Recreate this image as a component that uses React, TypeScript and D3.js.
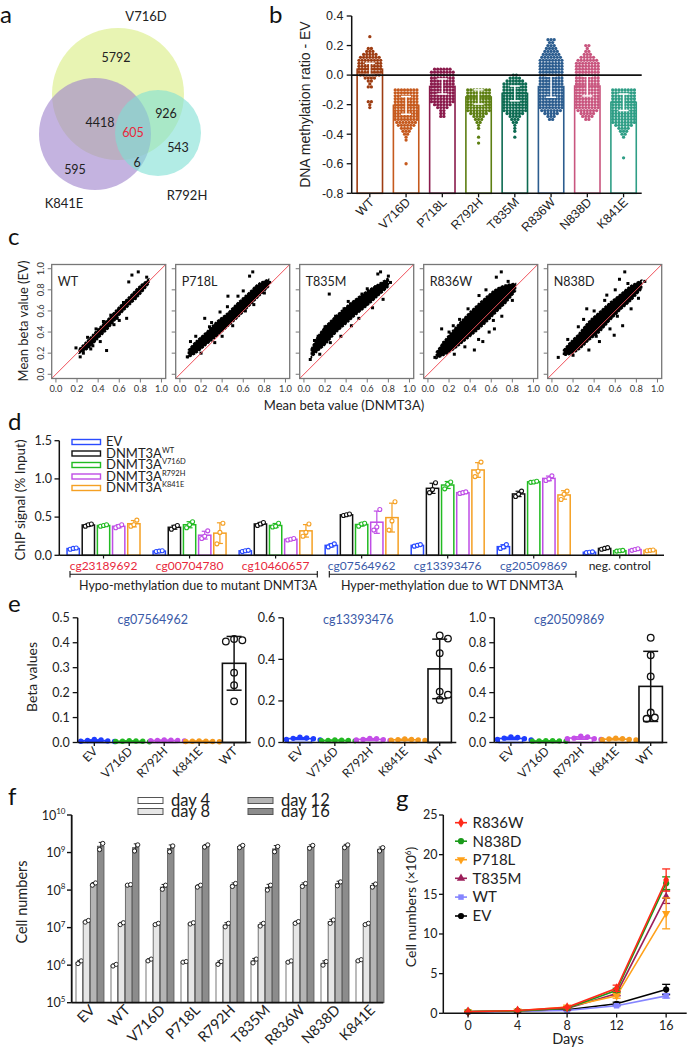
import React from "react";
import * as d3 from "d3";

const SANS = "Lato, 'Noto Sans', 'Open Sans', sans-serif";
const ARIAL = "'Liberation Sans', Arial, sans-serif";

// ---------------- Panel a (Venn) ----------------
const vennSets = ["V716D", "K841E", "R792H"];
const vennCounts = ["5792", "4418", "605", "926", "543", "6", "595"];

// ---------------- Panel b ----------------
const bMutants = ["WT", "V716D", "P718L", "R792H", "T835M", "R836W", "N838D", "K841E"];
const bMeans = [0.04, -0.205, -0.077, -0.148, -0.124, -0.078, -0.074, -0.184];
const bSDs = [0.04, 0.06, 0.051, 0.048, 0.05, 0.072, 0.067, 0.056];
const bColors = ["#9e3d12", "#c65a1e", "#8a1b4c", "#5d7f12", "#0d6b52", "#2c5d8f", "#c9567f", "#2f9e86"];
// histogram of per-CpG values (bins 0.02 wide, starting at bHistTop, going down)
const bHistTop = [0.26, -0.1, 0.04, -0.1, 0.0, 0.24, 0.2, -0.1];
const bHistCounts = [
  [1, 0, 0, 0, 2, 3, 5, 7, 8, 8, 8, 8, 8, 7, 4, 2, 1, 2, 0, 0, 0, 0, 2, 1, 1],
  [8, 8, 8, 8, 8, 8, 8, 8, 8, 8, 8, 7, 6, 4, 3, 2, 1, 1, 0, 0, 0, 0, 0, 0, 0, 1],
  [6, 8, 8, 8, 8, 8, 8, 8, 8, 8, 8, 8, 6, 4, 2, 2, 2],
  [8, 8, 8, 8, 8, 8, 8, 8, 6, 4, 3, 2, 1, 1, 0, 0, 1, 0, 1],
  [2, 4, 6, 8, 8, 8, 8, 8, 8, 8, 8, 8, 8, 6, 4, 3, 2, 1, 1, 1, 0, 1],
  [3, 2, 3, 4, 5, 6, 7, 8, 8, 8, 8, 8, 8, 8, 8, 8, 8, 8, 8, 8, 8, 8, 8, 8, 7, 5, 3, 2],
  [2, 1, 2, 3, 5, 7, 8, 8, 8, 8, 8, 8, 8, 8, 8, 8, 8, 8, 8, 8, 8, 8, 7, 5, 4, 2],
  [8, 8, 8, 8, 8, 8, 8, 8, 8, 8, 8, 8, 6, 4, 3, 2, 1, 0, 0, 0, 0, 0, 0, 1],
];

// ---------------- Panel c ----------------
const cPanels = ["WT", "P718L", "T835M", "R836W", "N838D"];
const cKnotX = [
  [0.22, 0.3, 0.4, 0.5, 0.6, 0.7, 0.8, 0.88],
  [0.08, 0.15, 0.25, 0.35, 0.45, 0.55, 0.65, 0.75, 0.84],
  [0.07, 0.12, 0.2, 0.3, 0.4, 0.5, 0.6, 0.7, 0.8],
  [0.08, 0.15, 0.25, 0.35, 0.45, 0.55, 0.65, 0.75, 0.83],
  [0.11, 0.17, 0.25, 0.35, 0.45, 0.55, 0.65, 0.75, 0.85],
];
const cLo = [
  [0.2, 0.24, 0.34, 0.44, 0.56, 0.66, 0.76, 0.86],
  [0.16, 0.2, 0.28, 0.36, 0.45, 0.54, 0.64, 0.74, 0.83],
  [0.16, 0.21, 0.28, 0.39, 0.48, 0.57, 0.65, 0.74, 0.83],
  [0.15, 0.18, 0.24, 0.32, 0.4, 0.49, 0.59, 0.69, 0.79],
  [0.18, 0.19, 0.23, 0.32, 0.4, 0.51, 0.61, 0.7, 0.81],
];
const cHi = [
  [0.24, 0.32, 0.43, 0.53, 0.64, 0.74, 0.84, 0.9],
  [0.23, 0.31, 0.4, 0.5, 0.58, 0.68, 0.77, 0.86, 0.9],
  [0.24, 0.34, 0.45, 0.55, 0.64, 0.72, 0.79, 0.85, 0.91],
  [0.21, 0.31, 0.43, 0.54, 0.64, 0.73, 0.81, 0.85, 0.86],
  [0.23, 0.3, 0.38, 0.5, 0.59, 0.68, 0.76, 0.84, 0.89],
];
const cOutliers = [
  [[0.72, 0.94], [0.78, 0.97], [0.69, 0.875], [0.48, 0.225], [0.67, 0.53], [0.19, 0.25], [0.23, 0.165], [0.26, 0.2], [0.35, 0.27], [0.42, 0.31], [0.55, 0.47], [0.6, 0.51], [0.45, 0.5], [0.38, 0.43], [0.82, 0.8], [0.75, 0.72], [0.3, 0.35], [0.52, 0.56], [0.64, 0.68], [0.33, 0.24], [0.86, 0.92], [0.58, 0.53]],
  [[0.69, 0.97], [0.66, 0.93], [0.455, 0.74], [0.235, 0.53], [0.1, 0.31], [0.07, 0.165], [0.15, 0.36], [0.3, 0.49], [0.38, 0.59], [0.55, 0.74], [0.6, 0.79], [0.4, 0.36], [0.5, 0.46], [0.7, 0.66], [0.8, 0.77], [0.2, 0.2], [0.85, 0.87], [0.28, 0.45], [0.45, 0.64], [0.62, 0.6], [0.72, 0.82], [0.33, 0.3]],
  [[0.24, 0.76], [0.726, 0.97], [0.7, 0.95], [0.52, 0.53], [0.135, 0.36], [0.1, 0.32], [0.2, 0.45], [0.3, 0.55], [0.42, 0.69], [0.6, 0.81], [0.35, 0.36], [0.45, 0.46], [0.65, 0.63], [0.75, 0.71], [0.82, 0.87], [0.06, 0.14], [0.15, 0.19], [0.25, 0.3], [0.55, 0.76], [0.38, 0.62], [0.68, 0.83], [0.8, 0.93]],
  [[0.695, 0.97], [0.648, 0.92], [0.484, 0.746], [0.13, 0.43], [0.066, 0.16], [0.52, 0.31], [0.63, 0.43], [0.44, 0.23], [0.2, 0.4], [0.3, 0.52], [0.38, 0.62], [0.55, 0.8], [0.25, 0.19], [0.35, 0.26], [0.58, 0.4], [0.7, 0.55], [0.8, 0.7], [0.15, 0.3], [0.42, 0.55], [0.48, 0.33], [0.62, 0.51], [0.24, 0.46], [0.76, 0.88]],
  [[0.69, 0.97], [0.64, 0.9], [0.33, 0.62], [0.06, 0.16], [0.59, 0.37], [0.67, 0.46], [0.25, 0.45], [0.4, 0.6], [0.5, 0.7], [0.6, 0.8], [0.35, 0.23], [0.45, 0.31], [0.55, 0.43], [0.75, 0.62], [0.82, 0.72], [0.15, 0.33], [0.2, 0.18], [0.88, 0.88], [0.3, 0.52], [0.52, 0.75], [0.62, 0.55], [0.72, 0.86], [0.42, 0.36]],
];
const cTicks = [0, 0.2, 0.4, 0.6, 0.8, 1.0];

// ---------------- Panel d ----------------
const dGroups = ["cg23189692", "cg00704780", "cg10460657", "cg07564962", "cg13393476", "cg20509869", "neg. control"];
const dSeries = ["EV", "WT", "V716D", "R792H", "K841E"];
const dLegendSup = ["", "WT", "V716D", "R792H", "K841E"];
const dColors = ["#2a4bff", "#111111", "#22bb22", "#bf4de6", "#f5a023"];
const dLabelColors = ["#e8283c", "#e8283c", "#e8283c", "#3a5aa8", "#3a5aa8", "#3a5aa8", "#222222"];
const dReps = [
  [[0.08, 0.09, 0.095], [0.38, 0.4, 0.41], [0.38, 0.39, 0.4], [0.36, 0.38, 0.4], [0.38, 0.4, 0.46]],
  [[0.05, 0.055, 0.06], [0.34, 0.37, 0.39], [0.36, 0.4, 0.44], [0.22, 0.25, 0.32], [0.15, 0.3, 0.42]],
  [[0.05, 0.06, 0.065], [0.39, 0.41, 0.43], [0.37, 0.38, 0.42], [0.2, 0.21, 0.22], [0.25, 0.3, 0.41]],
  [[0.11, 0.13, 0.15], [0.52, 0.53, 0.54], [0.38, 0.41, 0.42], [0.33, 0.37, 0.6], [0.33, 0.45, 0.7]],
  [[0.12, 0.13, 0.14], [0.82, 0.86, 0.95], [0.87, 0.93, 0.96], [0.81, 0.82, 0.83], [1.03, 1.1, 1.22]],
  [[0.09, 0.11, 0.14], [0.77, 0.8, 0.84], [0.955, 0.96, 0.97], [0.98, 1.0, 1.04], [0.73, 0.8, 0.84]],
  [[0.035, 0.04, 0.045], [0.08, 0.09, 0.1], [0.055, 0.06, 0.065], [0.065, 0.075, 0.085], [0.06, 0.065, 0.07]],
];
const dBrackets = ["Hypo-methylation due to mutant DNMT3A", "Hyper-methylation due to WT DNMT3A"];

// ---------------- Panel e ----------------
const eProbes = ["cg07564962", "cg13393476", "cg20509869"];
const eCats = ["EV", "V716D", "R792H", "K841E", "WT"];
const eColors = ["#1f3cff", "#22b822", "#c44ee8", "#f59a1e", "#111111"];
const eYMax = [0.5, 0.6, 1.0];
const eYTicks = [[0, 0.1, 0.2, 0.3, 0.4, 0.5], [0, 0.2, 0.4, 0.6], [0, 0.2, 0.4, 0.6, 0.8, 1.0]];
const eValues = [
  [[0.004, 0.006, 0.008, 0.01, 0.012, 0.005], [0.003, 0.005, 0.006, 0.004, 0.007, 0.005], [0.006, 0.008, 0.009, 0.007, 0.01, 0.008], [0.003, 0.004, 0.005, 0.004, 0.006, 0.005], [0.41, 0.405, 0.415, 0.28, 0.23, 0.165]],
  [[0.015, 0.02, 0.022, 0.018, 0.025, 0.012], [0.008, 0.01, 0.012, 0.009, 0.011, 0.01], [0.01, 0.015, 0.02, 0.012, 0.018, 0.014], [0.01, 0.012, 0.015, 0.013, 0.017, 0.011], [0.515, 0.5, 0.43, 0.245, 0.23, 0.205]],
  [[0.02, 0.03, 0.04, 0.045, 0.035, 0.025], [0.01, 0.012, 0.015, 0.013, 0.011, 0.014], [0.025, 0.03, 0.045, 0.05, 0.035, 0.03], [0.02, 0.025, 0.035, 0.03, 0.028, 0.022], [0.84, 0.7, 0.53, 0.24, 0.2, 0.19]],
];

// ---------------- Panel f ----------------
const fCats = ["EV", "WT", "V716D", "P718L", "R792H", "T835M", "R836W", "N838D", "K841E"];
const fDays = ["day 4", "day 8", "day 12", "day 16"];
const fFills = ["#ffffff", "#e6e6e6", "#b4b4b4", "#8c8c8c"];
const fExponents = [5, 6, 7, 8, 9, 10];
const fValues = [
  [[1.1e6, 1.3e6], [0.95e6, 1.05e6], [1.3e6, 1.45e6], [1.2e6, 1.25e6], [1.05e6, 1.25e6], [1.15e6, 1.45e6], [1.2e6, 1.3e6], [1.0e6, 1.25e6], [1.3e6, 1.4e6]],
  [[1.4e7, 1.55e7], [1.2e7, 1.35e7], [1.2e7, 1.3e7], [1.25e7, 1.35e7], [1.05e7, 1.3e7], [1.1e7, 1.3e7], [1.3e7, 1.45e7], [1.3e7, 1.6e7], [1.2e7, 1.3e7]],
  [[1.35e8, 1.55e8], [1.35e8, 1.4e8], [1.05e8, 1.35e8], [1.2e8, 1.35e8], [1.25e8, 1.5e8], [1.0e8, 1.35e8], [1.25e8, 1.5e8], [1.3e8, 1.65e8], [1.2e8, 1.45e8]],
  [[1.2e9, 1.75e9], [1.1e9, 1.6e9], [1.05e9, 1.5e9], [1.4e9, 1.6e9], [1.35e9, 1.55e9], [1.05e9, 1.45e9], [1.3e9, 1.55e9], [1.35e9, 1.6e9], [1.1e9, 1.35e9]],
];

// ---------------- Panel g ----------------
const gDays = [0, 4, 8, 12, 16];
const gSeries = ["R836W", "N838D", "P718L", "T835M", "WT", "EV"];
const gColors = ["#ff2a1a", "#1a9a1a", "#ffa11a", "#9c1f5a", "#8585ff", "#000000"];
const gSymbols = [d3.symbolDiamond, d3.symbolCircle, d3.symbolTriangle, d3.symbolTriangle, d3.symbolSquare, d3.symbolCircle];
const gFlip = [false, false, true, false, false, false];
const gMeans = [
  [0.2, 0.35, 0.75, 3.15, 16.8],
  [0.2, 0.3, 0.65, 2.9, 16.4],
  [0.22, 0.3, 0.8, 2.2, 12.6],
  [0.2, 0.3, 0.6, 2.5, 14.7],
  [0.18, 0.25, 0.35, 0.95, 2.2],
  [0.22, 0.3, 0.45, 1.2, 3.0],
];
const gSDs = [
  [0.02, 0.03, 0.08, 0.4, 1.4],
  [0.02, 0.03, 0.06, 0.25, 0.8],
  [0.02, 0.03, 0.1, 0.3, 1.95],
  [0.02, 0.03, 0.06, 0.3, 0.85],
  [0.02, 0.02, 0.04, 0.1, 0.28],
  [0.02, 0.03, 0.05, 0.2, 0.65],
];

// ---------------- helpers ----------------
const fmt1 = (v: number) => (Math.abs(v) < 1e-9 ? 0 : v).toFixed(1);

function dodge(vals: number[], y: (v: number) => number, cx: number, r: number) {
  const placed: { x: number; y: number }[] = [];
  const order = [...vals].sort((a, b) => b - a);
  const s = r * 1.25;
  for (const v of order) {
    const py = y(v);
    const cands = [0];
    for (let j = 1; j < 12; j++) cands.push(j * s, -j * s);
    for (const c of cands) {
      const px = cx + c;
      if (!placed.some((p) => Math.hypot(p.x - px, p.y - py) < 2 * r * 0.95)) {
        placed.push({ x: px, y: py });
        break;
      }
    }
  }
  return placed;
}

const PanelLabel = ({ x, y, t }: { x: number; y: number; t: string }) => (
  <text x={x} y={y} fontSize={24} fontFamily={SANS} fill="#111">
    {t}
  </text>
);

// ---------------- Panels ----------------
function PanelA() {
  const circles = [
    { cx: 118, cy: 94, r: 66, fill: "#d8ec80" },
    { cx: 95, cy: 134, r: 56, fill: "#9c80cc" },
    { cx: 158, cy: 133, r: 43, fill: "#7ee0d4" },
  ];
  const labelPos = [
    [146, 21],
    [64, 208],
    [187, 200],
  ];
  const countPos = [
    [116, 62],
    [100, 127],
    [133, 137],
    [166, 118],
    [178, 152],
    [137, 167],
    [75, 174],
  ];
  return (
    <g fontFamily={SANS}>
      <PanelLabel x={0} y={23} t="a" />
      {circles.map((c, i) => (
        <circle key={i} cx={c.cx} cy={c.cy} r={c.r} fill={c.fill} fillOpacity={0.6} />
      ))}
      {vennSets.map((s, i) => (
        <text key={s} x={labelPos[i][0]} y={labelPos[i][1]} textAnchor="middle" fontSize={13} fill="#222">
          {s}
        </text>
      ))}
      {vennCounts.map((c, i) => (
        <text key={i} x={countPos[i][0]} y={countPos[i][1]} textAnchor="middle" fontSize={12.5} fill={c === "605" ? "#e8283c" : "#222"}>
          {c}
        </text>
      ))}
    </g>
  );
}

function PanelB() {
  const x = d3.scaleBand<string>().domain(bMutants).range([351.7, 641.7]).paddingInner(0.3).paddingOuter(0.15);
  const y = d3.scaleLinear().domain([-0.8, 0.4]).range([193.3, 16]);
  const bw = x.bandwidth();
  return (
    <g fontFamily={ARIAL}>
      <PanelLabel x={269} y={23} t="b" />
      {bMutants.map((m, i) => (
        <rect key={m} x={x(m)!} y={y(bMeans[i])} width={bw} height={y(-0.8) - y(bMeans[i])} fill="#fff" stroke={bColors[i]} strokeWidth={1.6} />
      ))}
      {bMutants.map((m, i) => {
        const cx = x(m)! + bw / 2;
        return (
          <g key={m} fill={bColors[i]}>
            {bHistCounts[i].flatMap((n, k) => {
              const cy = y(bHistTop[i] - 0.02 * k);
              return d3.range(n).map((j) => <circle key={k + "-" + j} cx={cx + (j - (n - 1) / 2) * 3.1} cy={cy} r={1.65} />);
            })}
          </g>
        );
      })}
      {bMutants.map((m, i) => {
        const cx = x(m)! + bw / 2;
        const t = y(bMeans[i] + bSDs[i]);
        const b = y(bMeans[i] - bSDs[i]);
        return (
          <g key={m} stroke="#fff" strokeWidth={1.5}>
            <line x1={cx} x2={cx} y1={t} y2={b} />
            <line x1={cx - 5} x2={cx + 5} y1={t} y2={t} />
            <line x1={cx - 5} x2={cx + 5} y1={b} y2={b} />
          </g>
        );
      })}
      <line x1={351.7} x2={641.7} y1={y(0)} y2={y(0)} stroke="#111" strokeWidth={1.6} />
      <line x1={351.7} x2={351.7} y1={y(0.4)} y2={y(-0.8)} stroke="#111" strokeWidth={1.5} />
      <line x1={351.7} x2={641.7} y1={y(-0.8)} y2={y(-0.8)} stroke="#111" strokeWidth={1.5} />
      {y.ticks(6).map((t) => (
        <g key={t}>
          <line x1={346.7} x2={351.7} y1={y(t)} y2={y(t)} stroke="#111" strokeWidth={1.3} />
          <text x={343.5} y={y(t) + 4.3} textAnchor="end" fontSize={12.5} fill="#222">
            {fmt1(t)}
          </text>
        </g>
      ))}
      {bMutants.map((m) => {
        const cx = x(m)! + bw / 2;
        return (
          <g key={m}>
            <line x1={cx} x2={cx} y1={y(-0.8)} y2={y(-0.8) + 4} stroke="#111" strokeWidth={1.3} />
            <text transform={`translate(${cx + 5},${203}) rotate(-45)`} textAnchor="end" fontSize={12.5} fill="#222">
              {m}
            </text>
          </g>
        );
      })}
      <text transform={`translate(${310},${104.6}) rotate(-90)`} textAnchor="middle" fontSize={14} fill="#222">
        DNA methylation ratio - EV
      </text>
    </g>
  );
}

function PanelC() {
  const lefts = [51.7, 175.7, 299.7, 423.7, 547.7];
  return (
    <g fontFamily={SANS}>
      <PanelLabel x={8} y={245} t="c" />
      {cPanels.map((name, i) => {
        const L = lefts[i];
        const x = d3.scaleLinear().domain([-0.04, 1.04]).range([L, L + 114]);
        const y = d3.scaleLinear().domain([-0.04, 1.04]).range([378.5, 264.5]);
        const area = d3
          .area<number>()
          .x((d) => x(d))
          .y0((d, k) => y(cLo[i][k]))
          .y1((d, k) => y(cHi[i][k]))
          .curve(d3.curveCatmullRom);
        return (
          <g key={name}>
            <path d={area(cKnotX[i]) || ""} fill="#000" stroke="#000" strokeWidth={1.6} strokeDasharray="2.5 1.2" />
            {cOutliers[i].map((p, k) => (
              <rect key={k} x={x(p[0]) - 1.5} y={y(p[1]) - 1.5} width={3} height={3} fill="#000" />
            ))}
            <line x1={x(-0.04)} y1={y(-0.04)} x2={x(1.04)} y2={y(1.04)} stroke="#f0505a" strokeWidth={1} />
            <rect x={L} y={264.5} width={114} height={114} fill="none" stroke="#777" strokeWidth={1.3} />
            <text x={L + 6} y={286} fontSize={12.5} fill="#222">
              {name}
            </text>
            {cTicks.map((t) => (
              <g key={t}>
                <line x1={x(t)} x2={x(t)} y1={378.5} y2={382.5} stroke="#777" />
                <text x={x(t)} y={392} textAnchor="middle" fontSize={9.3} fill="#333">
                  {t.toFixed(1)}
                </text>
                <line x1={L - 4} x2={L} y1={y(t)} y2={y(t)} stroke="#777" />
                {i === 0 && (
                  <text transform={`translate(${44},${y(t)}) rotate(-90)`} textAnchor="middle" fontSize={9.3} fill="#333">
                    {t.toFixed(1)}
                  </text>
                )}
              </g>
            ))}
          </g>
        );
      })}
      <text transform={`translate(${28},${321}) rotate(-90)`} textAnchor="middle" fontSize={13} fill="#222">
        Mean beta value (EV)
      </text>
      <text x={344} y={410} textAnchor="middle" fontSize={13} fill="#222">
        Mean beta value (DNMT3A)
      </text>
    </g>
  );
}

function PanelD() {
  const y = d3.scaleLinear().domain([0, 1.5]).range([555.3, 440.7]);
  const xg = d3.scaleBand<string>().domain(dGroups).range([59.3, 664]).paddingInner(0.152).paddingOuter(0.09);
  const xs = d3.scaleBand<string>().domain(dSeries).range([0, xg.bandwidth()]).paddingInner(0.19).paddingOuter(0);
  const bw = xs.bandwidth();
  const legendY = [442, 453.5, 465, 476.5, 488];
  return (
    <g fontFamily={SANS}>
      <PanelLabel x={8} y={430} t="d" />
      {dGroups.map((g, gi) => (
        <g key={g}>
          {dSeries.map((s, si) => {
            const reps = dReps[gi][si];
            const m = d3.mean(reps)!;
            const sd = d3.deviation(reps)!;
            const x0 = xg(g)! + xs(s)!;
            const cx = x0 + bw / 2;
            return (
              <g key={s}>
                <rect x={x0} y={y(m)} width={bw} height={y(0) - y(m)} fill="#fff" stroke={dColors[si]} strokeWidth={1.5} />
                <g stroke={dColors[si]} strokeWidth={1.2}>
                  <line x1={cx} x2={cx} y1={y(m - sd)} y2={y(m + sd)} />
                  <line x1={cx - 3} x2={cx + 3} y1={y(m + sd)} y2={y(m + sd)} />
                  <line x1={cx - 3} x2={cx + 3} y1={y(m - sd)} y2={y(m - sd)} />
                </g>
                {reps.map((v, k) => (
                  <circle key={k} cx={cx + (k - 1) * 3} cy={y(v)} r={2} fill="#fff" stroke={dColors[si]} strokeWidth={1.1} />
                ))}
              </g>
            );
          })}
          <line x1={xg(g)! + xg.bandwidth() / 2} x2={xg(g)! + xg.bandwidth() / 2} y1={555.3} y2={558.5} stroke="#111" strokeWidth={1.2} />
          <text x={xg(g)! + xg.bandwidth() / 2} y={570} textAnchor="middle" fontSize={12} fill={dLabelColors[gi]}>
            {g}
          </text>
        </g>
      ))}
      <line x1={59.3} x2={59.3} y1={440.7} y2={555.3} stroke="#111" strokeWidth={1.5} />
      <line x1={59.3} x2={664} y1={555.3} y2={555.3} stroke="#111" strokeWidth={1.5} />
      {[0, 0.5, 1.0, 1.5].map((t) => (
        <g key={t}>
          <line x1={54.5} x2={59.3} y1={y(t)} y2={y(t)} stroke="#111" strokeWidth={1.3} />
          <text x={52} y={y(t) + 4.2} textAnchor="end" fontSize={12.5} fill="#222">
            {fmt1(t)}
          </text>
        </g>
      ))}
      <text transform={`translate(${25},${500}) rotate(-90)`} textAnchor="middle" fontSize={13.5} fill="#222">
        ChIP signal (% Input)
      </text>
      {dSeries.map((s, i) => (
        <g key={s}>
          <rect x={72} y={legendY[i] - 2.5} width={28.5} height={5} fill="#fff" stroke={dColors[i]} strokeWidth={1.4} />
          <text x={106} y={legendY[i] + 4.4} fontSize={13} fill="#222">
            {i === 0 ? "EV" : "DNMT3A"}
            {dLegendSup[i] && (
              <tspan dy={-5} fontSize={7.5}>
                {dLegendSup[i]}
              </tspan>
            )}
          </text>
        </g>
      ))}
      {[
        [70, 317.3],
        [329.3, 576],
      ].map((b, i) => (
        <g key={i} stroke="#111" strokeWidth={1.1}>
          <line x1={b[0]} x2={b[1]} y1={574.3} y2={574.3} />
          <line x1={b[0]} x2={b[0]} y1={571} y2={577.6} />
          <line x1={b[1]} x2={b[1]} y1={571} y2={577.6} />
          <text x={i === 0 ? 198 : 452} y={589.5} textAnchor="middle" fontSize={12.5} fill="#222" stroke="none">
            {dBrackets[i]}
          </text>
        </g>
      ))}
    </g>
  );
}

function PanelE() {
  const axisXs = [77.7, 283.3, 494.3];
  return (
    <g fontFamily={SANS}>
      <PanelLabel x={8} y={612} t="e" />
      <text transform={`translate(${37},${677}) rotate(-90)`} textAnchor="middle" fontSize={14} fill="#222">
        Beta values
      </text>
      {eProbes.map((p, pi) => {
        const ax = axisXs[pi];
        const y = d3.scaleLinear().domain([0, eYMax[pi]]).range([742.5, 617.8]);
        const x = d3.scaleBand<string>().domain(eCats).range([ax, ax + 173]).paddingInner(0.33).paddingOuter(0.14);
        const bw = x.bandwidth();
        return (
          <g key={p}>
            {eCats.map((c, ci) => {
              const vals = eValues[pi][ci];
              const m = d3.mean(vals)!;
              const sd = d3.deviation(vals)!;
              const cx = x(c)! + bw / 2;
              const isWT = c === "WT";
              const r = isWT ? 3.3 : 2.7;
              const pts = dodge(vals, y, cx, r);
              return (
                <g key={c}>
                  <rect x={x(c)!} y={y(m)} width={bw} height={Math.max(0, y(0) - y(m))} fill="#fff" stroke={eColors[ci]} strokeWidth={1.6} />
                  {isWT &&
                    pts.map((q, k) => <circle key={k} cx={q.x} cy={q.y} r={r} fill="#fff" stroke="#111" strokeWidth={1.3} />)}
                  <g stroke={eColors[ci]} strokeWidth={1.5}>
                    <line x1={cx} x2={cx} y1={y(m - sd)} y2={y(m + sd)} />
                    <line x1={cx - 7.5} x2={cx + 7.5} y1={y(m + sd)} y2={y(m + sd)} />
                    <line x1={cx - 7.5} x2={cx + 7.5} y1={y(m - sd)} y2={y(m - sd)} />
                  </g>
                  {!isWT && pts.map((q, k) => <circle key={k} cx={q.x} cy={q.y} r={r} fill={eColors[ci]} />)}
                  <line x1={cx} x2={cx} y1={742.5} y2={746} stroke="#111" strokeWidth={1.3} />
                  <text transform={`translate(${cx + 4},${752}) rotate(-45)`} textAnchor="end" fontSize={12} fill="#222">
                    {c}
                  </text>
                </g>
              );
            })}
            <line x1={ax} x2={ax} y1={617.8} y2={742.5} stroke="#111" strokeWidth={1.5} />
            <line x1={ax} x2={ax + 173} y1={742.5} y2={742.5} stroke="#111" strokeWidth={1.5} />
            {eYTicks[pi].map((t) => (
              <g key={t}>
                <line x1={ax - 5} x2={ax} y1={y(t)} y2={y(t)} stroke="#111" strokeWidth={1.3} />
                <text x={ax - 8} y={y(t) + 4.3} textAnchor="end" fontSize={12.5} fill="#222">
                  {fmt1(t)}
                </text>
              </g>
            ))}
            <text x={ax + 75} y={624} textAnchor="middle" fontSize={12.5} fill="#3a5aa8">
              {p}
            </text>
          </g>
        );
      })}
    </g>
  );
}

function PanelF() {
  const y = d3.scaleLog().domain([1e5, 1e10]).range([1002.7, 815]);
  const xg = d3.scaleBand<string>().domain(fCats).range([76, 384]).paddingInner(0.2).paddingOuter(0);
  const xd = d3.scaleBand<string>().domain(fDays).range([0, xg.bandwidth()]).paddingInner(0.1).paddingOuter(0);
  const bw = xd.bandwidth();
  const legend = [
    [138, 800.5, 0],
    [138, 811.5, 1],
    [248, 800.5, 2],
    [248, 811.5, 3],
  ];
  return (
    <g fontFamily={SANS}>
      <PanelLabel x={8} y={805} t="f" />
      {fCats.map((c, ci) => (
        <g key={c}>
          {fDays.map((d, di) => {
            const vals = fValues[di][ci];
            const m = d3.mean(vals)!;
            const sd = d3.deviation(vals)!;
            const x0 = xg(c)! + xd(d)!;
            const cx = x0 + bw / 2;
            return (
              <g key={d}>
                <rect x={x0} y={y(m)} width={bw} height={y(1e5) - y(m)} fill={fFills[di]} stroke="#555" strokeWidth={0.8} />
                <g stroke="#111" strokeWidth={0.9}>
                  <line x1={cx} x2={cx} y1={y(m - sd)} y2={y(m + sd)} />
                  <line x1={cx - 2} x2={cx + 2} y1={y(m + sd)} y2={y(m + sd)} />
                </g>
                {vals.map((v, k) => (
                  <circle key={k} cx={cx + (k === 0 ? -1.2 : 2)} cy={y(v)} r={2.1} fill="#fff" stroke="#111" strokeWidth={0.9} />
                ))}
              </g>
            );
          })}
          <text transform={`translate(${xg(c)! + xg.bandwidth() / 2 + 6},${1011}) rotate(-45)`} textAnchor="end" fontSize={14.5} fill="#222">
            {c}
          </text>
        </g>
      ))}
      <line x1={71.7} x2={71.7} y1={815} y2={1002.7} stroke="#111" strokeWidth={1.8} />
      <line x1={71.7} x2={383.3} y1={1002.7} y2={1002.7} stroke="#111" strokeWidth={1.8} />
      {fExponents.map((e) => (
        <g key={e}>
          <line x1={67} x2={71.7} y1={y(Math.pow(10, e))} y2={y(Math.pow(10, e))} stroke="#111" strokeWidth={1.4} />
          <text x={65.5} y={y(Math.pow(10, e)) + 4.5} textAnchor="end" fontSize={12.5} fill="#222">
            10
            <tspan dy={-5.5} fontSize={8}>
              {e}
            </tspan>
          </text>
        </g>
      ))}
      <text transform={`translate(${27},${902}) rotate(-90)`} textAnchor="middle" fontSize={14.5} fill="#222">
        Cell numbers
      </text>
      {legend.map(([lx, ly, i]) => (
        <g key={i}>
          <rect x={lx} y={ly - 3} width={25} height={6} fill={fFills[i]} stroke="#555" strokeWidth={1} />
          <text x={lx + 33} y={ly + 5.3} fontSize={16.5} fill="#222">
            {fDays[i]}
          </text>
        </g>
      ))}
    </g>
  );
}

function PanelG() {
  const x = d3.scaleLinear().domain([-2, 17.66]).range([443.3, 686.7]);
  const y = d3.scaleLinear().domain([0, 25]).range([1013.3, 815]);
  const line = d3
    .line<number>()
    .x((d, k) => x(gDays[k]))
    .y((d) => y(d));
  const legendY = [822.7, 841.2, 859.7, 878.3, 897.1, 916];
  const sym = (i: number, size: number) => d3.symbol(gSymbols[i], size)() || "";
  const order = [5, 4, 3, 2, 1, 0];
  return (
    <g fontFamily={SANS}>
      <PanelLabel x={396} y={807} t="g" />
      {order.map((i) => (
        <g key={gSeries[i]}>
          <path d={line(gMeans[i]) || ""} fill="none" stroke={gColors[i]} strokeWidth={1.6} />
          {gMeans[i].map((m, k) => {
            const cx = x(gDays[k]);
            const sd = gSDs[i][k];
            return (
              <g key={k} stroke={gColors[i]} strokeWidth={1.3}>
                <line x1={cx} x2={cx} y1={y(m - sd)} y2={y(m + sd)} />
                <line x1={cx - 4} x2={cx + 4} y1={y(m + sd)} y2={y(m + sd)} />
                <line x1={cx - 4} x2={cx + 4} y1={y(m - sd)} y2={y(m - sd)} />
              </g>
            );
          })}
          {gMeans[i].map((m, k) => (
            <path
              key={k}
              d={sym(i, 30)}
              transform={`translate(${x(gDays[k])},${y(m)})${gFlip[i] ? " rotate(180)" : ""}`}
              fill={gColors[i]}
            />
          ))}
        </g>
      ))}
      <line x1={443.3} x2={443.3} y1={815} y2={1013.3} stroke="#111" strokeWidth={1.5} />
      <line x1={443.3} x2={686.7} y1={1013.3} y2={1013.3} stroke="#111" strokeWidth={1.5} />
      {[0, 5, 10, 15, 20, 25].map((t) => (
        <g key={t}>
          <line x1={439} x2={443.3} y1={y(t)} y2={y(t)} stroke="#111" strokeWidth={1.3} />
          <text x={437.5} y={y(t) + 4.3} textAnchor="end" fontSize={12.5} fill="#222">
            {t}
          </text>
        </g>
      ))}
      {gDays.map((t) => (
        <g key={t}>
          <line x1={x(t)} x2={x(t)} y1={1013.3} y2={1017.5} stroke="#111" strokeWidth={1.3} />
          <text x={x(t)} y={1029.5} textAnchor="middle" fontSize={12.5} fill="#222">
            {t}
          </text>
        </g>
      ))}
      <text x={568} y={1044} textAnchor="middle" fontSize={14.5} fill="#222">
        Days
      </text>
      <text transform={`translate(${416},${907}) rotate(-90)`} textAnchor="middle" fontSize={14} fill="#222">
        Cell numbers (×10
        <tspan dy={-5} fontSize={8}>
          6
        </tspan>
        <tspan dy={5}>)</tspan>
      </text>
      {gSeries.map((s, i) => (
        <g key={s}>
          <line x1={455} x2={467} y1={legendY[i]} y2={legendY[i]} stroke={gColors[i]} strokeWidth={1.6} />
          <path d={sym(i, 30)} transform={`translate(${461},${legendY[i]})${gFlip[i] ? " rotate(180)" : ""}`} fill={gColors[i]} />
          <text x={472.5} y={legendY[i] + 5.3} fontSize={15} fill="#222">
            {s}
          </text>
        </g>
      ))}
    </g>
  );
}

export default function App() {
  return (
    <svg width={691} height={1050} style={{ position: "absolute", left: 0, top: 0, background: "#fff" }}>
      <PanelA />
      <PanelB />
      <PanelC />
      <PanelD />
      <PanelE />
      <PanelF />
      <PanelG />
    </svg>
  );
}
